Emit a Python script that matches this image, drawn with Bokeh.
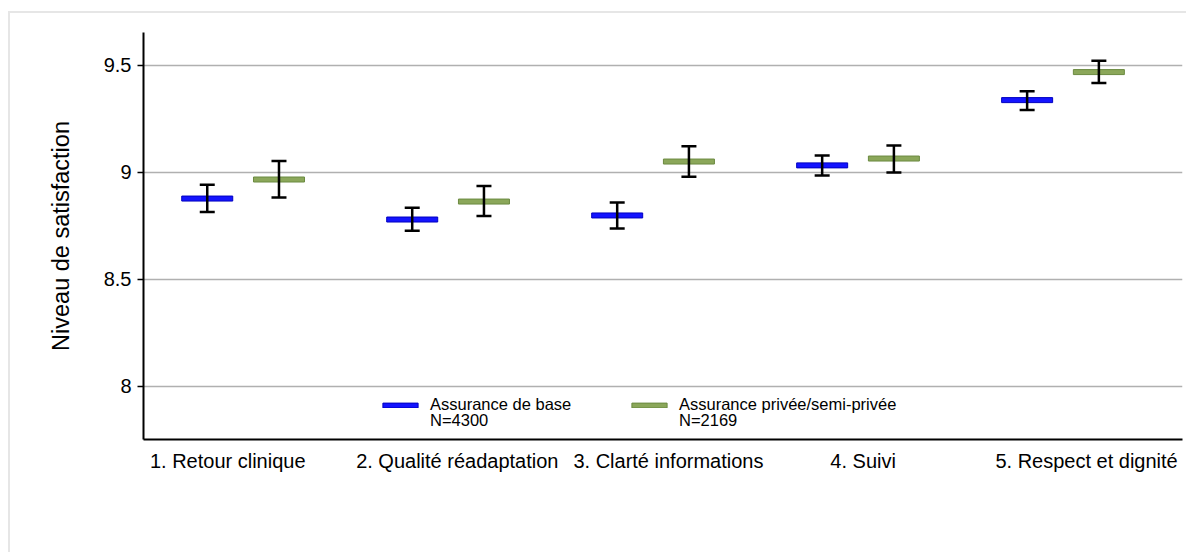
from bokeh.plotting import figure
from bokeh.models import (ColumnDataSource, Whisker, TeeHead, FixedTicker, Legend,
                          LegendItem, Range1d)
from bokeh.embed import file_html
from bokeh.resources import INLINE

# ---- data ----
categories = ["1. Retour clinique", "2. Qualité réadaptation", "3. Clarté informations",
              "4. Suivi", "5. Respect et dignité"]
base_mean = [8.878, 8.780, 8.799, 9.033, 9.338]
base_low = [8.815, 8.727, 8.738, 8.986, 9.292]
base_high = [8.942, 8.835, 8.860, 9.079, 9.380]
priv_mean = [8.967, 8.864, 9.051, 9.065, 9.469]
priv_low = [8.883, 8.796, 8.980, 9.000, 9.418]
priv_high = [9.054, 8.937, 9.123, 9.126, 9.522]
series_names = ["Assurance de base", "Assurance privée/semi-privée"]
series_n = ["N=4300", "N=2169"]
y_ticks = [8, 8.5, 9, 9.5]

# ---- layout (not data) ----
group_offset = 0.35
label_pos = [0.10, 1.22, 2.25, 3.20, 4.29]
FONT = "Liberation Sans"

xb = [float(i) for i in range(len(categories))]
xg = [i + group_offset for i in xb]

src_b = ColumnDataSource(dict(x=xb, y=base_mean, lo=base_low, hi=base_high))
src_g = ColumnDataSource(dict(x=xg, y=priv_mean, lo=priv_low, hi=priv_high))

p = figure(width=1178, height=541, output_backend="svg", toolbar_location=None,
           x_range=Range1d(-0.311, 4.758), y_range=Range1d(7.752, 9.654),
           min_border_left=133, min_border_right=6, min_border_top=19, min_border_bottom=115)
p.margin = (11, 0, 0, 8)
p.styles = {"border-left": "2px solid #e6e6e6", "border-top": "2px solid #e6e6e6"}
p.outline_line_color = None
p.background_fill_color = "white"
p.border_fill_color = "white"

r_b = p.rect("x", "y", width=51, height=5, width_units="screen", height_units="screen",
             source=src_b, fill_color="#1414ff", line_color="#0000c0", line_width=1)
r_g = p.rect("x", "y", width=51, height=5, width_units="screen", height_units="screen",
             source=src_g, fill_color="#8ba75a", line_color="#6b8a40", line_width=1)

for src in (src_b, src_g):
    w = Whisker(source=src, base="x", lower="lo", upper="hi", dimension="height",
                line_color="black", line_width=2.5, level="annotation",
                upper_head=TeeHead(size=15, line_color="black", line_width=2.5),
                lower_head=TeeHead(size=15, line_color="black", line_width=2.5))
    p.add_layout(w)

# axes
p.xaxis.ticker = FixedTicker(ticks=label_pos)
p.xaxis.major_label_overrides = {pos: c for pos, c in zip(label_pos, categories)}
p.xaxis.major_tick_line_color = None
p.xaxis.minor_tick_line_color = None
p.xaxis.axis_line_width = 2
p.xaxis.axis_line_color = "black"
p.xaxis.major_label_standoff = 4
p.xaxis.major_label_text_font = FONT
p.xaxis.major_label_text_font_size = "20px"
p.xaxis.major_label_text_color = "black"

p.yaxis.ticker = FixedTicker(ticks=y_ticks)
p.yaxis.major_label_overrides = {8: "8", 8.5: "8.5", 9: "9", 9.5: "9.5"}
p.yaxis.minor_tick_line_color = None
p.yaxis.major_tick_out = 6
p.yaxis.major_tick_in = 0
p.yaxis.major_tick_line_width = 1.5
p.yaxis.major_tick_line_color = "black"
p.yaxis.axis_line_width = 2
p.yaxis.axis_line_color = "black"
p.yaxis.major_label_standoff = 6
p.yaxis.major_label_text_font = FONT
p.yaxis.major_label_text_font_size = "20px"
p.yaxis.major_label_text_color = "black"
p.yaxis.axis_label = "Niveau de satisfaction"
p.yaxis.axis_label_text_font = FONT
p.yaxis.axis_label_text_font_style = "normal"
p.yaxis.axis_label_text_font_size = "23.5px"
p.yaxis.axis_label_text_color = "black"
p.yaxis.axis_label_standoff = 27

p.xgrid.grid_line_color = None
p.ygrid.grid_line_color = "#b0b0b0"
p.ygrid.grid_line_width = 1.5

common = dict(orientation="horizontal", glyph_width=44, glyph_height=6, label_standoff=8,
              spacing=37, label_width=160, padding=4, margin=0,
              label_text_font=FONT, label_text_font_size="16.5px", label_text_color="black",
              border_line_color=None)
legend_a = Legend(items=[LegendItem(label=series_names[0], renderers=[r_b]),
                         LegendItem(label=series_names[1], renderers=[r_g])],
                  location=(235, 25), background_fill_color="white",
                  background_fill_alpha=1.0, **common)
legend_b = Legend(items=[LegendItem(label=series_n[0], renderers=[]),
                         LegendItem(label=series_n[1], renderers=[])],
                  location=(235, 9), background_fill_alpha=0.0, **common)
p.add_layout(legend_a, "center")
p.add_layout(legend_b, "center")

open("out.html", "w").write(file_html(p, INLINE))
